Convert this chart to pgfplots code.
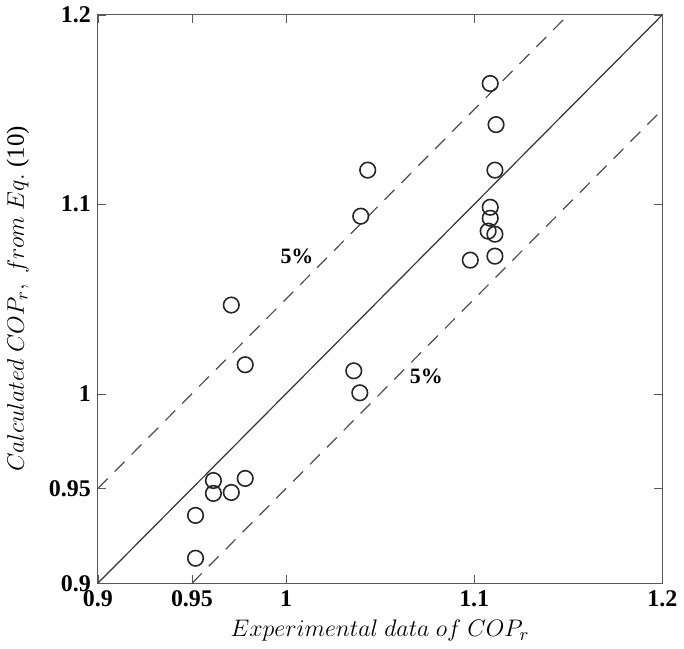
\documentclass[border=0pt]{standalone}
\usepackage{pgfplots}
\pgfplotsset{compat=1.18}
\usepackage{fontspec}
\setmainfont{Liberation Serif}
\begin{document}
\begin{tikzpicture}
\begin{axis}[
  scale only axis, width=283pt, height=285pt,
  xmin=0.9, xmax=1.2, ymin=0.9, ymax=1.2,
  xtick={0.9,0.95,1,1.1,1.2}, ytick={0.9,0.95,1,1.1,1.2},
  xticklabels={\textbf{0.9},\textbf{0.95},\textbf{1},\textbf{1.1},\textbf{1.2}},
  yticklabels={\textbf{0.9},\textbf{0.95},\textbf{1},\textbf{1.1},\textbf{1.2}},
  tick label style={font=\fontsize{12}{13}\selectfont},
  tick align=inside, major tick length=4pt,
  axis line style={gray!70!black, line width=0.6pt},
  tick style={gray!70!black},
  xlabel={$Experimental\ data\ of\ COP_r$},
  ylabel={$Calculated\ COP_r,\ from\ Eq.$ (10)},
  label style={font=\fontsize{12.5}{13}\selectfont},
  xlabel style={yshift=0pt},
  ylabel style={yshift=3pt},
  clip=true,
]
\addplot[black!80, line width=0.6pt, no marks] coordinates {(0.9,0.9) (1.2,1.2)};
\addplot[black!70, line width=0.6pt, dashed, dash pattern=on 7pt off 5pt, no marks] coordinates {(0.9,0.95) (1.15,1.2)};
\addplot[black!70, line width=0.6pt, dashed, dash pattern=on 7pt off 5pt, no marks] coordinates {(0.95,0.9) (1.2,1.15)};
\addplot[only marks, mark=o, mark size=3.9pt, line width=0.8pt, black!85] coordinates {
(1.1085,1.1637) (1.1116,1.1420) (1.1110,1.1180) (1.0434,1.1180) (1.0397,1.0937)
(1.1085,1.0984) (1.1085,1.0926) (1.1074,1.0858) (1.1110,1.0842) (1.0979,1.0705)
(1.1110,1.0726) (0.9709,1.0468) (0.9783,1.0153) (1.0360,1.0121) (1.0392,1.0005)
(0.9614,0.9542) (0.9783,0.9553) (0.9614,0.9474) (0.9709,0.9479) (0.9519,0.9358)
(0.9519,0.9132)
};
\node[font=\bfseries\fontsize{11}{12}\selectfont] at (axis cs:1.0058,1.0726) {5\%};
\node[font=\bfseries\fontsize{11}{12}\selectfont] at (axis cs:1.0746,1.009) {5\%};
\end{axis}
\end{tikzpicture}
\end{document}
